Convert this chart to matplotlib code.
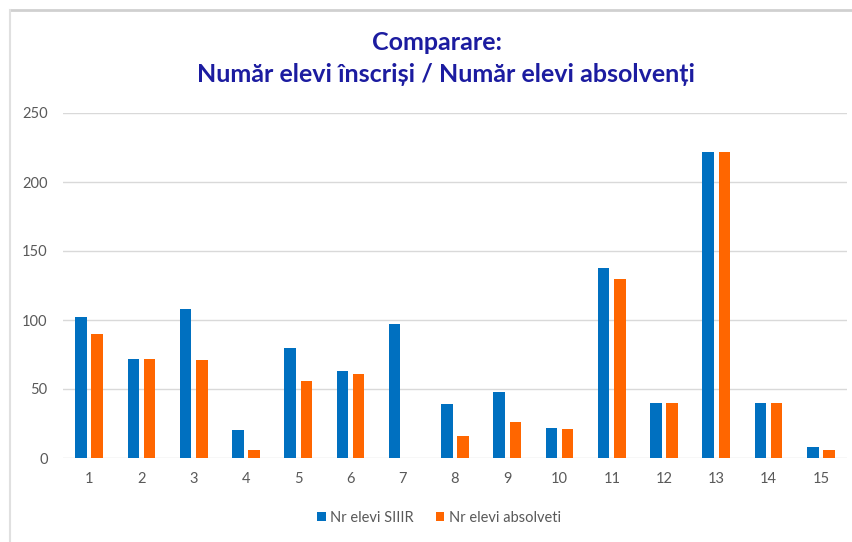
import matplotlib.pyplot as plt
import numpy as np
from matplotlib.lines import Line2D

# school numbers and counts
categories = [str(i) for i in range(1, 16)]
elevi_siiir = [102, 72, 108, 20, 80, 63, 97, 39, 48, 22, 138, 40, 222, 40, 8]
elevi_absolventi = [90, 72, 71, 6, 56, 61, 0, 16, 26, 21, 130, 40, 222, 40, 6]
yticks = [0, 50, 100, 150, 200, 250]

blue = '#0070C0'
orange = '#FF6600'
grey_txt = '#595959'

plt.rcParams['font.family'] = ['Lato', 'DejaVu Sans']

fig = plt.figure(figsize=(8.53, 5.42), dpi=100)
ax = fig.add_axes([63 / 853, 1 - 458 / 542, (847 - 63) / 853, (458 - 113) / 542])

x = np.arange(len(categories))
w = 0.22
ax.bar(x - 0.155, elevi_siiir, w, color=blue, label='Nr elevi SIIIR', zorder=3)
ax.bar(x + 0.155, elevi_absolventi, w, color=orange, label='Nr elevi absolveti', zorder=3)

ax.set_xlim(-0.5, len(categories) - 0.5)
ax.set_ylim(0, 250)
ax.set_yticks(yticks)
ax.set_xticks(x)
ax.set_xticklabels(categories)
ax.grid(axis='y', color='#d9d9d9', linewidth=1, zorder=0)
for s in ax.spines.values():
    s.set_visible(False)
ax.tick_params(length=0, colors=grey_txt, labelsize=10.5)
ax.tick_params(axis='y', pad=11)
ax.tick_params(axis='x', pad=10)

fig.text(437 / 853, 1 - 42 / 542, 'Comparare:', ha='center', va='center',
         fontsize=18, fontweight='bold', color='#1c1ca0')
fig.text(446 / 853, 1 - 75 / 542, 'Număr elevi înscriși / Număr elevi absolvenți',
         ha='center', va='center', fontsize=18, fontweight='bold', color='#1c1ca0')

handles, labels = ax.get_legend_handles_labels()
fig.legend(handles, labels, loc='center', bbox_to_anchor=(439 / 853, 1 - 518 / 542),
           ncol=2, frameon=False, fontsize=10.5, labelcolor=grey_txt,
           handlelength=0.6, handleheight=0.6, handletextpad=0.3, columnspacing=1.5)

# chart frame
fig.add_artist(Line2D([9.5 / 853, 1], [1 - 10 / 542, 1 - 10 / 542],
                      transform=fig.transFigure, color='#d0d0d0', linewidth=2))
fig.add_artist(Line2D([9.5 / 853, 9.5 / 853], [0, 1 - 10 / 542],
                      transform=fig.transFigure, color='#e0e0e0', linewidth=1.5))

fig.savefig('out.png', dpi=100)
